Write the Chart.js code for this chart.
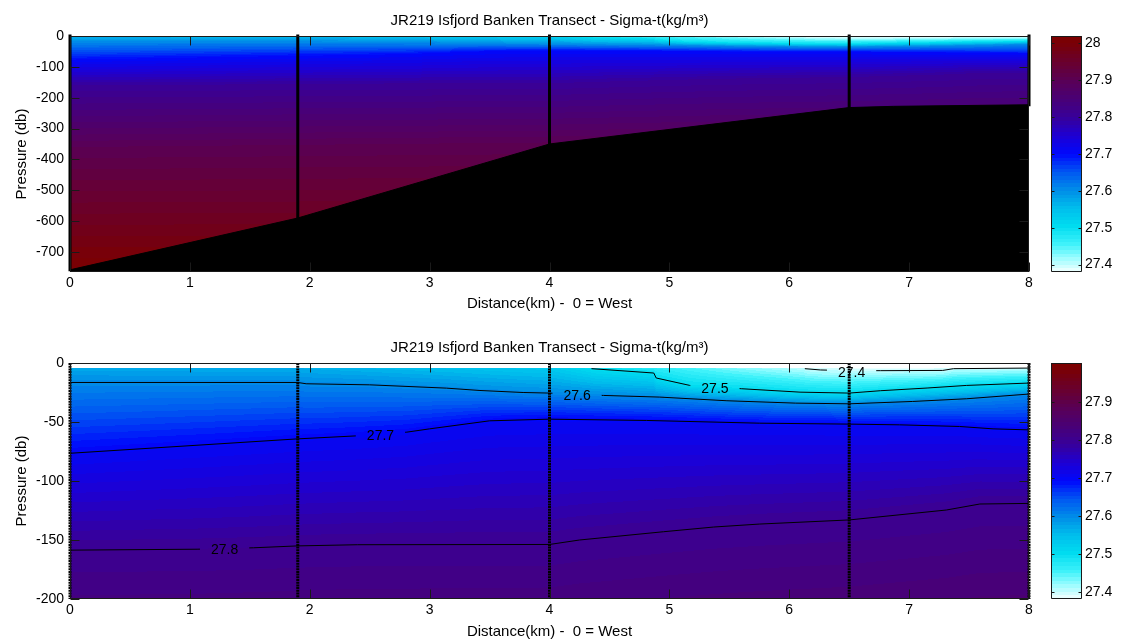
<!DOCTYPE html>
<html>
<head>
<meta charset="utf-8">
<title>JR219 Isfjord Banken Transect</title>
<script src="https://cdn.jsdelivr.net/npm/chart.js@4.4.1/dist/chart.umd.min.js"></script>
<style>
  body { margin: 0; background: #fff; }
  #figure { position: relative; width: 1121px; height: 641px; }
  #figure canvas { position: absolute; }
</style>
</head>
<body>
<div id="figure">
  <canvas id="full-section" width="1040" height="320" style="left:0;top:0"></canvas>
  <canvas id="full-bar" width="81" height="320" style="left:1040px;top:0"></canvas>
  <canvas id="upper-section" width="1040" height="321" style="left:0;top:320px"></canvas>
  <canvas id="upper-bar" width="81" height="321" style="left:1040px;top:320px"></canvas>
</div>
<script>
// station positions (km from the western end) and cast depths (db)
const stationKm = [0, 1.9, 4, 6.5, 8];
const stationP = [-758, -590, -350, -232, -223];

// seabed under the section
const seabedKm = [0, 1.9, 4, 6.5, 6.87, 8];
const seabedP = [-758, -590, -350, -232, -228, -223];

// sigma-t of the shallowest bin
const firstBin = 4;
const surfaceKm = [0, 1.9, 4, 4.35, 5, 5.5, 6.13, 6.5, 7, 7.5, 8];
const surfaceSigma = [27.57, 27.565, 27.53, 27.5, 27.46, 27.43, 27.4, 27.387, 27.385, 27.39, 27.396];

// pressure of each isopycnal along the section
const iso274Km = [6.13, 6.26, 6.5, 6.76, 7.28, 7.37, 8];
const iso274P = [-4.8, -5.9, -6.5, -6.5, -6.3, -4.8, -4.3];
const iso275Km = [4.35, 4.87, 4.89, 5.17, 5.6, 6.09, 6.5, 6.76, 7.15, 7.48, 8];
const iso275P = [-4.8, -8.5, -12.7, -19, -21.8, -24.7, -25.5, -23.5, -21.2, -19, -17];
const iso276Km = [0, 1.9, 1.97, 2.5, 3.14, 3.42, 3.78, 4, 4.45, 4.92, 5.48, 6.05, 6.5, 7.03, 7.48, 8];
const iso276P = [-16.5, -16.5, -17.6, -18.5, -21.3, -23.3, -25, -25.5, -27.5, -28.9, -32, -34, -34.6, -32.6, -30.3, -26.3];
const iso277Km = [0, 1.9, 2.38, 2.81, 3, 3.5, 4, 4.81, 5.75, 6.5, 6.92, 7.42, 7.7, 8];
const iso277P = [-76.5, -64.3, -61.8, -58.6, -55.8, -49, -47.6, -48.7, -51, -51.8, -52.4, -53.8, -55.8, -56.7];
const iso278Km = [0, 1.06, 1.53, 1.9, 2.4, 4, 4.25, 4.95, 5.37, 5.75, 6.5, 7.31, 7.59, 8];
const iso278P = [-158.6, -157.8, -156.6, -155, -154, -153.8, -150, -143, -139, -136.5, -133, -124.6, -119.5, -119];
const iso279Km = [0, 4, 8];
const iso279P = [-360, -345, -320];
const iso280Km = [0, 8];
const iso280P = [-720, -720];

// colour limits of the two panels
const fullClim = [27.38, 28.02];
const upperClim = [27.381, 28.004];

const isopycnals = [
  { level: 27.4, km: iso274Km, p: iso274P, labelKm: 6.52 },
  { level: 27.5, km: iso275Km, p: iso275P, labelKm: 5.38 },
  { level: 27.6, km: iso276Km, p: iso276P, labelKm: 4.23 },
  { level: 27.7, km: iso277Km, p: iso277P, labelKm: 2.59 },
  { level: 27.8, km: iso278Km, p: iso278P, labelKm: 1.29 },
  { level: 27.9, km: iso279Km, p: iso279P },
  { level: 28.0, km: iso280Km, p: iso280P }
];

const FONT = '"Liberation Sans", Arial, Helvetica, sans-serif';
Chart.defaults.font.family = FONT;
Chart.defaults.font.size = 14;
Chart.defaults.color = '#000';

function interp(xs, ys, x) {
  const n = xs.length;
  if (x < xs[0] - 0.02 || x > xs[n - 1] + 0.02) return null;
  if (x <= xs[0]) return ys[0];
  for (let i = 1; i < n; i++) {
    if (x <= xs[i]) {
      const t = (x - xs[i - 1]) / (xs[i] - xs[i - 1]);
      return ys[i - 1] + t * (ys[i] - ys[i - 1]);
    }
  }
  return ys[n - 1];
}

// pressure/sigma-t knots of the water column at one distance
function profileAt(km) {
  const s = interp(surfaceKm, surfaceSigma, km);
  const knots = [[firstBin, s]];
  isopycnals.forEach(iso => {
    if (iso.level <= s) return;
    const y = interp(iso.km, iso.p, km);
    if (y === null || -y <= firstBin) return;
    knots.push([-y, iso.level]);
  });
  knots.sort((a, b) => a[0] - b[0]);
  return knots;
}

function sigmaAt(knots, p) {
  if (knots.length === 1) return knots[0][1];
  let i = 1;
  while (i < knots.length - 1 && p > knots[i][0]) i++;
  const [p0, v0] = knots[i - 1];
  const [p1, v1] = knots[i];
  return v0 + (p - p0) * (v1 - v0) / (p1 - p0);
}

// white - cyan - blue - purple - dark red, 64 steps
const cmapStops = [
  [0.00, '#e8ffff'], [0.06, '#90fcff'], [0.11, '#40f2fa'], [0.19, '#00dcf0'],
  [0.27, '#00bcec'], [0.34, '#0090e8'], [0.42, '#0058f2'], [0.50, '#0008fc'],
  [0.58, '#1e00d2'], [0.66, '#380098'], [0.73, '#480078'], [0.81, '#580058'],
  [0.89, '#680030'], [0.97, '#780008'], [1.00, '#7c0000']
];
const hexRgb = h => [1, 3, 5].map(i => parseInt(h.slice(i, i + 2), 16));
const cmapRgb = cmapStops.map(([f, h]) => [f, hexRgb(h)]);
function rampAt(f) {
  for (let i = 1; i < cmapRgb.length; i++) {
    if (f <= cmapRgb[i][0]) {
      const [f0, c0] = cmapRgb[i - 1];
      const [f1, c1] = cmapRgb[i];
      const t = (f - f0) / (f1 - f0);
      return c0.map((c, k) => Math.round(c + t * (c1[k] - c)));
    }
  }
  return cmapRgb[cmapRgb.length - 1][1];
}
const colourTable = Array.from({ length: 64 }, (_, i) => rampAt(i / 63));
function colourFor(v, clim) {
  const f = (v - clim[0]) / (clim[1] - clim[0]);
  return colourTable[Math.max(0, Math.min(63, Math.floor(f * 64)))];
}

// shaded sigma-t field under the datasets
const sectionField = clim => ({
  id: 'field',
  beforeDatasetsDraw(chart) {
    const { ctx, chartArea: a, scales: { x, y } } = chart;
    const x0 = Math.round(a.left), y0 = Math.round(a.top);
    const w = Math.round(a.right) - x0, h = Math.round(a.bottom) - y0;
    const img = ctx.createImageData(w, h);
    for (let i = 0; i < w; i++) {
      const knots = profileAt(x.getValueForPixel(x0 + i + 0.5));
      for (let j = 0; j < h; j++) {
        const p = -y.getValueForPixel(y0 + j + 0.5);
        if (p < firstBin) continue;
        const c = colourFor(sigmaAt(knots, p), clim);
        const k = (j * w + i) * 4;
        img.data[k] = c[0];
        img.data[k + 1] = c[1];
        img.data[k + 2] = c[2];
        img.data[k + 3] = 255;
      }
    }
    ctx.putImageData(img, x0, y0);
  }
});

// breaks each contour around its label and writes the label
function labelBox(chart, ds) {
  const { ctx, scales: { x, y } } = chart;
  ctx.font = '14px ' + FONT;
  const w = ctx.measureText(ds.label).width;
  const cx = x.getPixelForValue(ds.labelKm);
  const cy = y.getPixelForValue(interp(ds.km, ds.p, ds.labelKm));
  return { cx, cy, x0: cx - w / 2 - 11, x1: cx + w / 2 + 11, y0: cy - 8, y1: cy + 8 };
}
const contourLabels = {
  id: 'contourLabels',
  beforeDatasetDraw(chart, args) {
    const ds = chart.data.datasets[args.index];
    if (ds.labelKm === undefined) return;
    const b = labelBox(chart, ds);
    const ctx = chart.ctx;
    ctx.save();
    ctx.beginPath();
    ctx.rect(0, 0, chart.width, chart.height);
    ctx.rect(b.x0, b.y0, b.x1 - b.x0, b.y1 - b.y0);
    ctx.clip('evenodd');
  },
  afterDatasetDraw(chart, args) {
    const ds = chart.data.datasets[args.index];
    if (ds.labelKm === undefined) return;
    const ctx = chart.ctx;
    ctx.restore();
    const b = labelBox(chart, ds);
    ctx.save();
    ctx.fillStyle = '#000';
    ctx.textAlign = 'center';
    ctx.textBaseline = 'middle';
    ctx.fillText(ds.label, b.cx, b.cy + 2);
    ctx.restore();
  }
};

// axes box with inward tick marks
const frame = {
  id: 'frame',
  afterDraw(chart, args, opts) {
    const { ctx, chartArea: a, scales } = chart;
    const len = opts.tickLen;
    const L = Math.round(a.left) + 0.5, R = Math.round(a.right) - 0.5;
    const T = Math.round(a.top) + 0.5, B = Math.round(a.bottom) - 0.5;
    ctx.save();
    ctx.strokeStyle = '#1a1a1a';
    ctx.lineWidth = 1;
    ctx.beginPath();
    Object.values(scales).forEach(s => {
      if (s.options.display === false) return;
      s.ticks.forEach(t => {
        const v = Math.round(s.getPixelForValue(t.value)) + 0.5;
        if (s.axis === 'x') {
          ctx.moveTo(v, B); ctx.lineTo(v, B - len);
          ctx.moveTo(v, T); ctx.lineTo(v, T + len);
        } else {
          ctx.moveTo(L, v); ctx.lineTo(L + len, v);
          ctx.moveTo(R, v); ctx.lineTo(R - len, v);
        }
      });
    });
    ctx.rect(L, T, R - L, B - T);
    ctx.stroke();
    ctx.restore();
  }
};

const seabedData = seabedKm.map((k, i) => ({ x: k, y: seabedP[i] }));

function stationSets(dash) {
  return stationKm.map((k, i) => ({
    data: [{ x: k, y: 0 }, { x: k, y: stationP[i] }],
    borderColor: '#000',
    borderWidth: 3,
    borderDash: dash,
    borderCapStyle: dash.length ? 'butt' : 'square',
    pointRadius: 0,
    clip: { left: 3, right: 3, top: dash.length ? 0 : 3, bottom: 0 },
    order: 1
  }));
}

function contourSets() {
  return isopycnals.filter(iso => iso.labelKm !== undefined).map(iso => ({
    label: iso.level.toFixed(1),
    km: iso.km,
    p: iso.p,
    labelKm: iso.labelKm,
    data: iso.km.map((k, i) => ({ x: k, y: iso.p[i] })),
    borderColor: '#000',
    borderWidth: 1,
    pointRadius: 0,
    order: 2
  }));
}

function sectionChart(id, cfg) {
  return new Chart(document.getElementById(id), {
    type: 'line',
    data: {
      datasets: [
        { data: seabedData, borderColor: '#000', backgroundColor: '#000', borderWidth: 1, fill: 'start', pointRadius: 0, order: 3 },
        ...cfg.contours,
        ...stationSets(cfg.dash)
      ]
    },
    options: {
      responsive: false,
      animation: false,
      devicePixelRatio: 1,
      events: [],
      layout: { padding: { left: 0, right: 11, top: 0, bottom: 0 } },
      plugins: {
        legend: { display: false },
        tooltip: { enabled: false },
        title: {
          display: true,
          fullSize: false,
          text: 'JR219 Isfjord Banken Transect - Sigma-t(kg/m³)',
          color: '#000',
          font: { size: 15, weight: 'normal' },
          padding: cfg.titlePad
        },
        frame: { tickLen: 9 }
      },
      scales: {
        x: {
          type: 'linear', min: 0, max: 8,
          grid: { display: false, drawTicks: false },
          border: { display: false },
          ticks: { stepSize: 1, padding: 3, maxRotation: 0 },
          title: { display: true, text: 'Distance(km) -  0 = West', font: { size: 15 }, padding: { top: 0, bottom: cfg.xTitlePad } },
          afterFit: s => { s.height = cfg.xAxisH; }
        },
        y: {
          type: 'linear', min: cfg.pMin, max: 0,
          grid: { display: false, drawTicks: false },
          border: { display: false },
          ticks: { stepSize: cfg.pStep, includeBounds: false, padding: 6, callback: v => String(v) },
          title: { display: true, text: 'Pressure (db)', font: { size: 15 }, padding: { top: 12.5, bottom: 0 } },
          afterFit: s => { s.width = 70; }
        }
      }
    },
    plugins: [sectionField(cfg.clim), contourLabels, frame]
  });
}

function colourBar(id, clim, padTop, padBottom) {
  return new Chart(document.getElementById(id), {
    type: 'bar',
    data: {
      labels: [''],
      datasets: [{
        data: [clim],
        borderWidth: 0,
        barPercentage: 1,
        categoryPercentage: 1,
        backgroundColor: c => {
          const { chart } = c;
          if (!chart.chartArea) return '#000';
          const yLo = chart.scales.y.getPixelForValue(clim[0]);
          const yHi = chart.scales.y.getPixelForValue(clim[1]);
          if (!isFinite(yLo) || !isFinite(yHi)) return '#000';
          const g = chart.ctx.createLinearGradient(0, yLo, 0, yHi);
          colourTable.forEach((rgb, i) => {
            const col = `rgb(${rgb[0]},${rgb[1]},${rgb[2]})`;
            g.addColorStop(i / 64, col);
            g.addColorStop((i + 1) / 64, col);
          });
          return g;
        }
      }]
    },
    options: {
      responsive: false,
      animation: false,
      devicePixelRatio: 1,
      events: [],
      layout: { padding: { left: 11, right: 0, top: padTop, bottom: padBottom } },
      plugins: { legend: { display: false }, tooltip: { enabled: false }, frame: { tickLen: 3 } },
      scales: {
        x: { display: false },
        y: {
          position: 'right', min: clim[0], max: clim[1],
          grid: { display: false, drawTicks: false },
          border: { display: false },
          ticks: { stepSize: 0.1, includeBounds: false, padding: 3, callback: v => String(+v.toFixed(1)) },
          // a tick sitting right on the upper edge is left unlabelled
          afterBuildTicks: s => { s.ticks = s.ticks.filter(t => clim[1] - t.value > 0.01); },
          afterFit: s => { s.width = 39; }
        }
      }
    },
    plugins: [frame]
  });
}

sectionChart('full-section', {
  clim: fullClim, pMin: -765, pStep: 100, contours: [], dash: [],
  titlePad: { top: 11.5, bottom: 6.5 }, xAxisH: 48, xTitlePad: 7
});
colourBar('full-bar', fullClim, 36, 48);

sectionChart('upper-section', {
  clim: upperClim, pMin: -200, pStep: 50, contours: contourSets(), dash: [2, 0.7],
  titlePad: { top: 19, bottom: 6 }, xAxisH: 42, xTitlePad: 0
});
colourBar('upper-bar', upperClim, 43, 42);
</script>
</body>
</html>
